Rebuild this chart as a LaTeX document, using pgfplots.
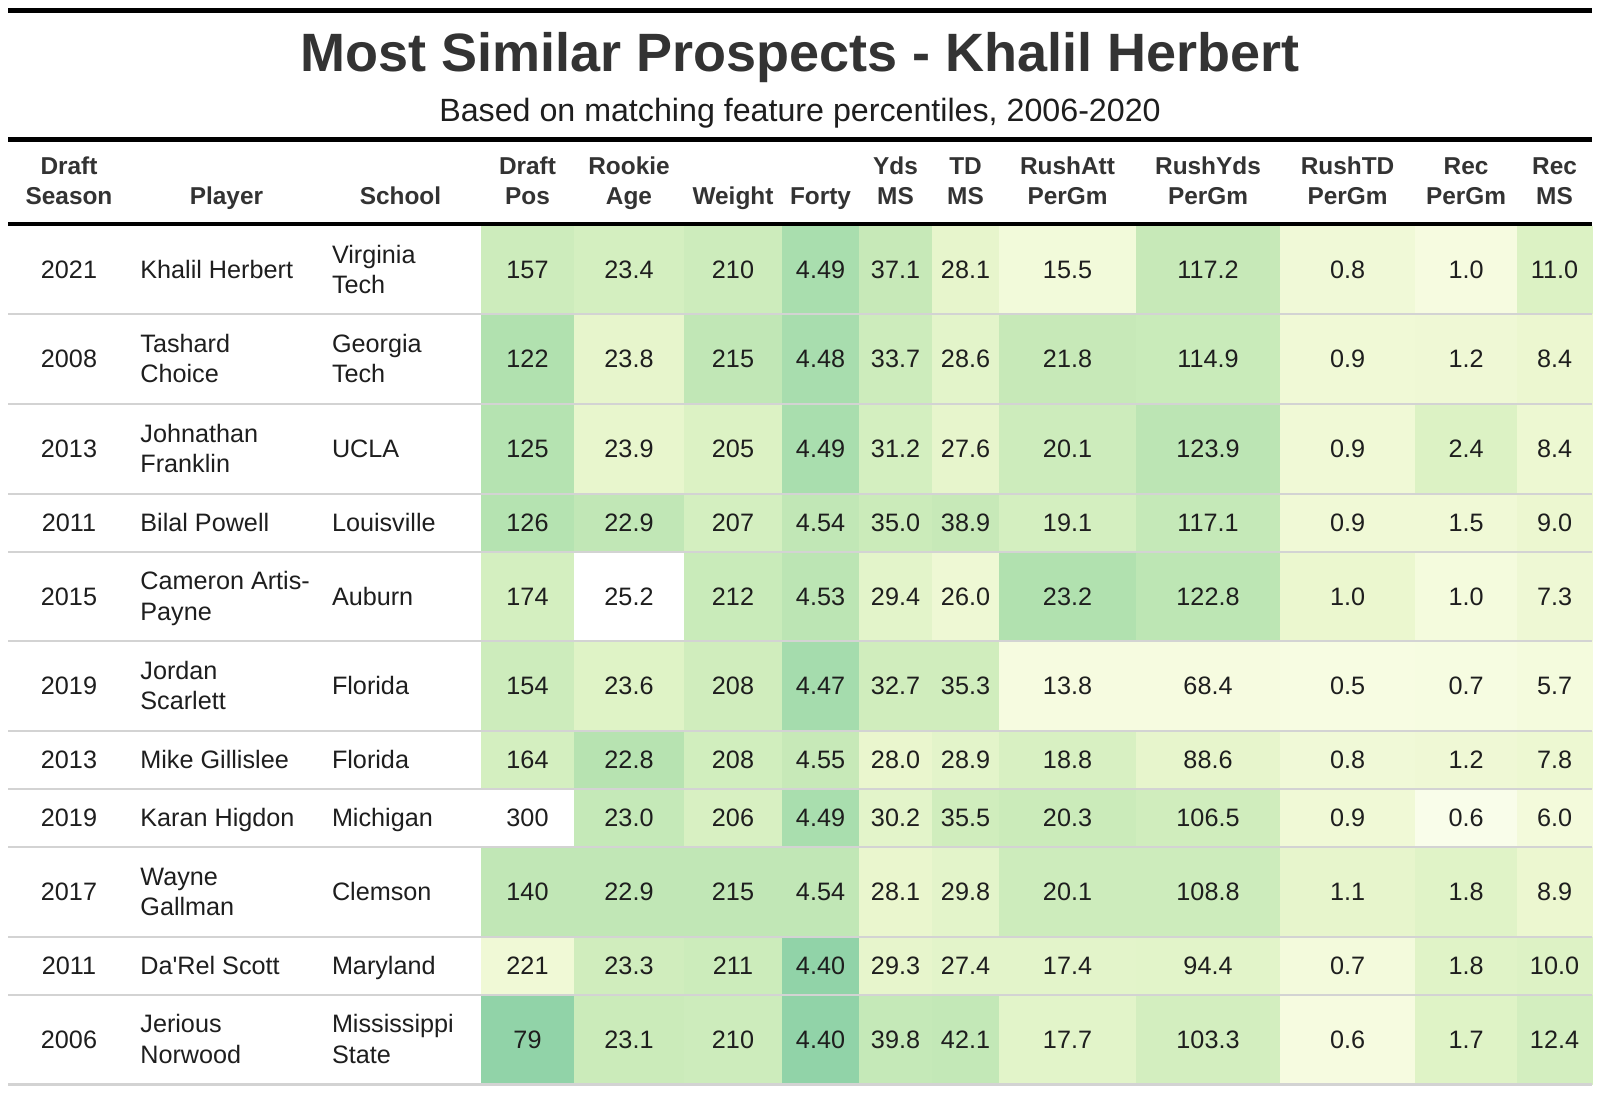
\documentclass[border=0pt]{standalone}
\usepackage{fontspec}
\setmainfont{Liberation Sans}
\usepackage{pgfplots}
\pgfplotsset{compat=1.18}
\usepgfplotslibrary{patchplots}
\definecolor{tt}{HTML}{333333}
\definecolor{bt}{HTML}{1E1E1E}
\definecolor{sep}{HTML}{D3D3D3}
\pgfplotsset{colormap={tbl}{rgb255(0cm)=(255,255,255) rgb255(1.5cm)=(247,252,226) rgb255(3cm)=(236,247,208) rgb255(4.5cm)=(220,242,196) rgb255(6cm)=(200,234,185) rgb255(7.5cm)=(180,226,176) rgb255(9cm)=(160,218,172) rgb255(10cm)=(143,210,168)}}
\newcommand\bodyfont{\fontsize{12.6pt}{14pt}\selectfont}
\newcommand\headfont{\fontsize{12.2pt}{14pt}\selectfont\bfseries}
% cell: x1 x2 xc y1 y2 ybase level text
\newcommand\K[8]{%
  \addplot[patch,patch type=rectangle,shader=flat,point meta=#7] coordinates {(#1,#4) (#2,#4) (#2,#5) (#1,#5)};
  \node[anchor=base,font=\bodyfont,text=bt,inner sep=0pt] at (axis cs:#3,#6) {#8};}
\newcommand\T[3]{\node[anchor=base,font=\bodyfont,text=bt,inner sep=0pt] at (axis cs:#1,#2) {#3};}
\newcommand\TL[3]{\node[anchor=base west,font=\bodyfont,text=bt,inner sep=0pt] at (axis cs:#1,#2) {#3};}
\newcommand\Hd[3]{\node[anchor=base,font=\headfont,text=tt,inner sep=0pt] at (axis cs:#1,#2) {#3};}
\newcommand\Hl[1]{\addplot[sep,line width=1pt] coordinates {(8,#1) (1592,#1)};}
\begin{document}
\begin{tikzpicture}
\begin{axis}[width=800pt,height=547.5pt,scale only axis,xmin=0,xmax=1600,ymin=0,ymax=1095,y dir=reverse,hide axis,clip=false,point meta min=0,point meta max=1000,colormap name=tbl]
\addplot[draw=none,fill=white] coordinates {(0,0) (1600,0) (1600,1095) (0,1095)};
% row 1
\K{481}{575}{527.5}{226}{315}{278.8}{560}{157}
\K{574}{685}{629}{226}{315}{278.8}{510}{23.4}
\K{684}{783}{733}{226}{315}{278.8}{560}{210}
\K{782}{860}{820.5}{226}{315}{278.8}{830}{4.49}
\K{859}{933}{895.5}{226}{315}{278.8}{610}{37.1}
\K{932}{1000}{965.5}{226}{315}{278.8}{350}{28.1}
\K{999}{1137}{1067.5}{226}{315}{278.8}{220}{15.5}
\K{1136}{1281}{1208}{226}{315}{278.8}{610}{117.2}
\K{1280}{1416}{1347.5}{226}{315}{278.8}{240}{0.8}
\K{1415}{1518}{1466}{226}{315}{278.8}{170}{1.0}
\K{1517}{1592}{1554.5}{226}{315}{278.8}{450}{11.0}
% row 2
\K{481}{575}{527.5}{314}{405}{367.8}{770}{122}
\K{574}{685}{629}{314}{405}{367.8}{350}{23.8}
\K{684}{783}{733}{314}{405}{367.8}{650}{215}
\K{782}{860}{820.5}{314}{405}{367.8}{840}{4.48}
\K{859}{933}{895.5}{314}{405}{367.8}{560}{33.7}
\K{932}{1000}{965.5}{314}{405}{367.8}{380}{28.6}
\K{999}{1137}{1067.5}{314}{405}{367.8}{610}{21.8}
\K{1136}{1281}{1208}{314}{405}{367.8}{590}{114.9}
\K{1280}{1416}{1347.5}{314}{405}{367.8}{250}{0.9}
\K{1415}{1518}{1466}{314}{405}{367.8}{260}{1.2}
\K{1517}{1592}{1554.5}{314}{405}{367.8}{300}{8.4}
% row 3
\K{481}{575}{527.5}{404}{495}{457.8}{740}{125}
\K{574}{685}{629}{404}{495}{457.8}{340}{23.9}
\K{684}{783}{733}{404}{495}{457.8}{450}{205}
\K{782}{860}{820.5}{404}{495}{457.8}{830}{4.49}
\K{859}{933}{895.5}{404}{495}{457.8}{510}{31.2}
\K{932}{1000}{965.5}{404}{495}{457.8}{350}{27.6}
\K{999}{1137}{1067.5}{404}{495}{457.8}{560}{20.1}
\K{1136}{1281}{1208}{404}{495}{457.8}{690}{123.9}
\K{1280}{1416}{1347.5}{404}{495}{457.8}{250}{0.9}
\K{1415}{1518}{1466}{404}{495}{457.8}{450}{2.4}
\K{1517}{1592}{1554.5}{404}{495}{457.8}{280}{8.4}
% row 4
\K{481}{575}{527.5}{494}{553}{531.8}{740}{126}
\K{574}{685}{629}{494}{553}{531.8}{650}{22.9}
\K{684}{783}{733}{494}{553}{531.8}{510}{207}
\K{782}{860}{820.5}{494}{553}{531.8}{650}{4.54}
\K{859}{933}{895.5}{494}{553}{531.8}{580}{35.0}
\K{932}{1000}{965.5}{494}{553}{531.8}{610}{38.9}
\K{999}{1137}{1067.5}{494}{553}{531.8}{510}{19.1}
\K{1136}{1281}{1208}{494}{553}{531.8}{620}{117.1}
\K{1280}{1416}{1347.5}{494}{553}{531.8}{250}{0.9}
\K{1415}{1518}{1466}{494}{553}{531.8}{250}{1.5}
\K{1517}{1592}{1554.5}{494}{553}{531.8}{300}{9.0}
% row 5
\K{481}{575}{527.5}{552}{642}{605.3}{510}{174}
\K{574}{685}{629}{552}{642}{605.3}{0}{25.2}
\K{684}{783}{733}{552}{642}{605.3}{590}{212}
\K{782}{860}{820.5}{552}{642}{605.3}{690}{4.53}
\K{859}{933}{895.5}{552}{642}{605.3}{380}{29.4}
\K{932}{1000}{965.5}{552}{642}{605.3}{270}{26.0}
\K{999}{1137}{1067.5}{552}{642}{605.3}{770}{23.2}
\K{1136}{1281}{1208}{552}{642}{605.3}{680}{122.8}
\K{1280}{1416}{1347.5}{552}{642}{605.3}{310}{1.0}
\K{1415}{1518}{1466}{552}{642}{605.3}{190}{1.0}
\K{1517}{1592}{1554.5}{552}{642}{605.3}{270}{7.3}
% row 6
\K{481}{575}{527.5}{641}{732}{694.8}{560}{154}
\K{574}{685}{629}{641}{732}{694.8}{420}{23.6}
\K{684}{783}{733}{641}{732}{694.8}{540}{208}
\K{782}{860}{820.5}{641}{732}{694.8}{860}{4.47}
\K{859}{933}{895.5}{641}{732}{694.8}{540}{32.7}
\K{932}{1000}{965.5}{641}{732}{694.8}{540}{35.3}
\K{999}{1137}{1067.5}{641}{732}{694.8}{170}{13.8}
\K{1136}{1281}{1208}{641}{732}{694.8}{170}{68.4}
\K{1280}{1416}{1347.5}{641}{732}{694.8}{150}{0.5}
\K{1415}{1518}{1466}{641}{732}{694.8}{160}{0.7}
\K{1517}{1592}{1554.5}{641}{732}{694.8}{190}{5.7}
% row 7
\K{481}{575}{527.5}{731}{790}{768.8}{510}{164}
\K{574}{685}{629}{731}{790}{768.8}{730}{22.8}
\K{684}{783}{733}{731}{790}{768.8}{530}{208}
\K{782}{860}{820.5}{731}{790}{768.8}{610}{4.55}
\K{859}{933}{895.5}{731}{790}{768.8}{320}{28.0}
\K{932}{1000}{965.5}{731}{790}{768.8}{380}{28.9}
\K{999}{1137}{1067.5}{731}{790}{768.8}{480}{18.8}
\K{1136}{1281}{1208}{731}{790}{768.8}{350}{88.6}
\K{1280}{1416}{1347.5}{731}{790}{768.8}{240}{0.8}
\K{1415}{1518}{1466}{731}{790}{768.8}{260}{1.2}
\K{1517}{1592}{1554.5}{731}{790}{768.8}{280}{7.8}
% row 8
\K{481}{575}{527.5}{789}{848}{826.8}{0}{300}
\K{574}{685}{629}{789}{848}{826.8}{620}{23.0}
\K{684}{783}{733}{789}{848}{826.8}{480}{206}
\K{782}{860}{820.5}{789}{848}{826.8}{830}{4.49}
\K{859}{933}{895.5}{789}{848}{826.8}{380}{30.2}
\K{932}{1000}{965.5}{789}{848}{826.8}{540}{35.5}
\K{999}{1137}{1067.5}{789}{848}{826.8}{580}{20.3}
\K{1136}{1281}{1208}{789}{848}{826.8}{540}{106.5}
\K{1280}{1416}{1347.5}{789}{848}{826.8}{250}{0.9}
\K{1415}{1518}{1466}{789}{848}{826.8}{110}{0.6}
\K{1517}{1592}{1554.5}{789}{848}{826.8}{210}{6.0}
% row 9
\K{481}{575}{527.5}{847}{938}{900.8}{650}{140}
\K{574}{685}{629}{847}{938}{900.8}{650}{22.9}
\K{684}{783}{733}{847}{938}{900.8}{650}{215}
\K{782}{860}{820.5}{847}{938}{900.8}{650}{4.54}
\K{859}{933}{895.5}{847}{938}{900.8}{320}{28.1}
\K{932}{1000}{965.5}{847}{938}{900.8}{380}{29.8}
\K{999}{1137}{1067.5}{847}{938}{900.8}{560}{20.1}
\K{1136}{1281}{1208}{847}{938}{900.8}{560}{108.8}
\K{1280}{1416}{1347.5}{847}{938}{900.8}{350}{1.1}
\K{1415}{1518}{1466}{847}{938}{900.8}{410}{1.8}
\K{1517}{1592}{1554.5}{847}{938}{900.8}{300}{8.9}
% row 10
\K{481}{575}{527.5}{937}{996}{974.8}{250}{221}
\K{574}{685}{629}{937}{996}{974.8}{540}{23.3}
\K{684}{783}{733}{937}{996}{974.8}{570}{211}
\K{782}{860}{820.5}{937}{996}{974.8}{990}{4.40}
\K{859}{933}{895.5}{937}{996}{974.8}{350}{29.3}
\K{932}{1000}{965.5}{937}{996}{974.8}{380}{27.4}
\K{999}{1137}{1067.5}{937}{996}{974.8}{380}{17.4}
\K{1136}{1281}{1208}{937}{996}{974.8}{390}{94.4}
\K{1280}{1416}{1347.5}{937}{996}{974.8}{200}{0.7}
\K{1415}{1518}{1466}{937}{996}{974.8}{410}{1.8}
\K{1517}{1592}{1554.5}{937}{996}{974.8}{440}{10.0}
% row 11
\K{481}{575}{527.5}{995}{1084}{1048.3}{990}{79}
\K{574}{685}{629}{995}{1084}{1048.3}{580}{23.1}
\K{684}{783}{733}{995}{1084}{1048.3}{560}{210}
\K{782}{860}{820.5}{995}{1084}{1048.3}{990}{4.40}
\K{859}{933}{895.5}{995}{1084}{1048.3}{620}{39.8}
\K{932}{1000}{965.5}{995}{1084}{1048.3}{640}{42.1}
\K{999}{1137}{1067.5}{995}{1084}{1048.3}{390}{17.7}
\K{1136}{1281}{1208}{995}{1084}{1048.3}{520}{103.3}
\K{1280}{1416}{1347.5}{995}{1084}{1048.3}{170}{0.6}
\K{1415}{1518}{1466}{995}{1084}{1048.3}{420}{1.7}
\K{1517}{1592}{1554.5}{995}{1084}{1048.3}{520}{12.4}
% rules
\Hl{314}\Hl{404}\Hl{494}\Hl{552}\Hl{641}\Hl{731}\Hl{789}\Hl{847}\Hl{937}\Hl{995}
\addplot[sep,line width=1.5pt] coordinates {(8,1084.5) (1592,1084.5)};
\addplot[black,line width=2.25pt] coordinates {(8,10.5) (1592,10.5)};
\addplot[black,line width=2.25pt] coordinates {(8,139.3) (1592,139.3)};
\addplot[black,line width=2.4pt] coordinates {(8,224) (1592,224)};
% title
\node[anchor=base,font=\fontsize{27pt}{30pt}\selectfont\bfseries,text=tt,inner sep=0pt] at (axis cs:800,71.7) {Most Similar Prospects - Khalil Herbert};
\node[anchor=base,font=\fontsize{16.1pt}{18pt}\selectfont,text=bt,inner sep=0pt] at (axis cs:800,121.7) {Based on matching feature percentiles, 2006-2020};
% headers
\Hd{69}{175}{Draft}\Hd{69}{204.3}{Season}
\Hd{226.5}{204.3}{Player}
\Hd{400.5}{204.3}{School}
\Hd{527.5}{175}{Draft}\Hd{527.5}{204.3}{Pos}
\Hd{629}{175}{Rookie}\Hd{629}{204.3}{Age}
\Hd{733}{204.3}{Weight}
\Hd{820.5}{204.3}{Forty}
\Hd{895.5}{175}{Yds}\Hd{895.5}{204.3}{MS}
\Hd{965.5}{175}{TD}\Hd{965.5}{204.3}{MS}
\Hd{1067.5}{175}{RushAtt}\Hd{1067.5}{204.3}{PerGm}
\Hd{1208}{175}{RushYds}\Hd{1208}{204.3}{PerGm}
\Hd{1347.5}{175}{RushTD}\Hd{1347.5}{204.3}{PerGm}
\Hd{1466}{175}{Rec}\Hd{1466}{204.3}{PerGm}
\Hd{1554.5}{175}{Rec}\Hd{1554.5}{204.3}{MS}
% left columns
\T{69}{278.8}{2021}\TL{140}{278.8}{Khalil Herbert}\TL{331.6}{263.4}{Virginia}\TL{331.6}{293.6}{Tech}
\T{69}{367.8}{2008}\TL{140}{352.4}{Tashard}\TL{140}{382.6}{Choice}\TL{331.6}{352.4}{Georgia}\TL{331.6}{382.6}{Tech}
\T{69}{457.8}{2013}\TL{140}{442.4}{Johnathan}\TL{140}{472.6}{Franklin}\TL{331.6}{457.8}{UCLA}
\T{69}{531.8}{2011}\TL{140}{531.8}{Bilal Powell}\TL{331.6}{531.8}{Louisville}
\T{69}{605.3}{2015}\TL{140}{589.9}{Cameron Artis-}\TL{140}{620.1}{Payne}\TL{331.6}{605.3}{Auburn}
\T{69}{694.8}{2019}\TL{140}{679.4}{Jordan}\TL{140}{709.6}{Scarlett}\TL{331.6}{694.8}{Florida}
\T{69}{768.8}{2013}\TL{140}{768.8}{Mike Gillislee}\TL{331.6}{768.8}{Florida}
\T{69}{826.8}{2019}\TL{140}{826.8}{Karan Higdon}\TL{331.6}{826.8}{Michigan}
\T{69}{900.8}{2017}\TL{140}{885.4}{Wayne}\TL{140}{915.6}{Gallman}\TL{331.6}{900.8}{Clemson}
\T{69}{974.8}{2011}\TL{140}{974.8}{Da\textquotesingle Rel Scott}\TL{331.6}{974.8}{Maryland}
\T{69}{1048.3}{2006}\TL{140}{1032.9}{Jerious}\TL{140}{1063.1}{Norwood}\TL{331.6}{1032.9}{Mississippi}\TL{331.6}{1063.1}{State}
\end{axis}
\end{tikzpicture}
\end{document}
